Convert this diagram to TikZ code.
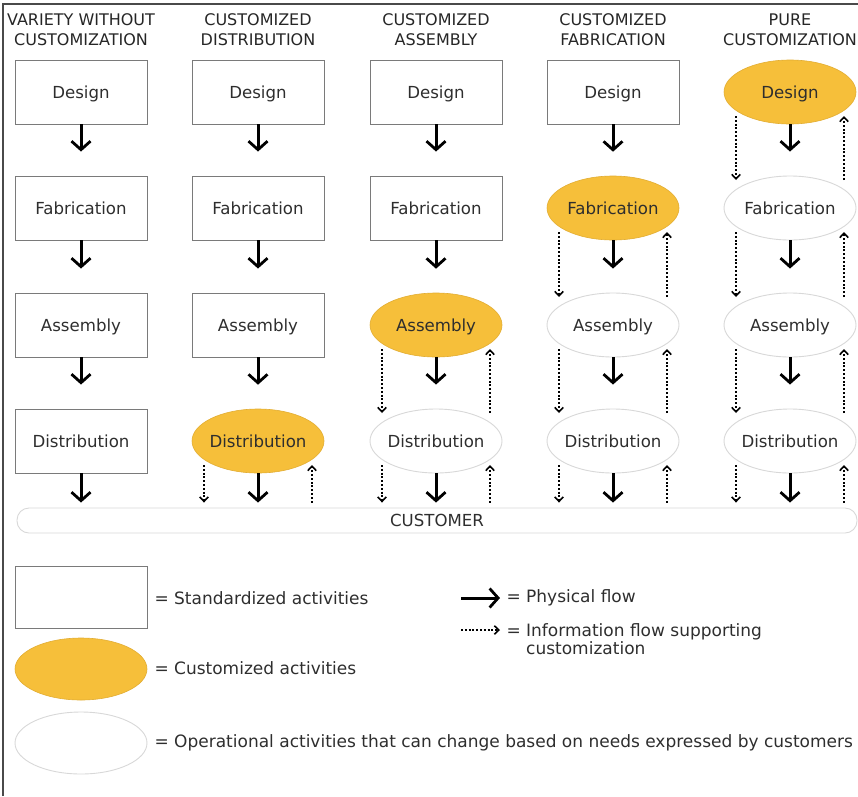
\documentclass[tikz,border=0pt]{standalone}
\usepackage{fontspec}
\setmainfont{DejaVu Sans}
\usetikzlibrary{shapes.geometric,arrows.meta,calc}
\definecolor{custyellow}{HTML}{F6BF3A}
\definecolor{custedge}{HTML}{E2AD33}
\definecolor{boxedge}{HTML}{7A7A7A}
\definecolor{opedge}{HTML}{D8D8D8}
\definecolor{ink}{HTML}{2E2E2E}
\definecolor{framec}{HTML}{4A4A4A}

\begin{document}
\begin{tikzpicture}[x=1pt,y=-1pt,
  every node/.style={font=\fontsize{16.6}{18}\selectfont, text=ink},
  activity/.style={minimum width=132pt, minimum height=64pt, inner sep=0pt,
    text height=12pt, text depth=0pt},
  stdbox/.style={activity, rectangle, draw=boxedge, line width=0.9pt, fill=white},
  oval/.style={activity, ellipse, inner xsep=-3pt},
  custact/.style={oval, draw=custedge, line width=0.6pt, fill=custyellow},
  opact/.style={oval, draw=opedge, line width=0.9pt, fill=white},
  heading/.style={align=center, font=\fontsize{16}{20}\selectfont, text=black!85},
  legendtext/.style={font=\fontsize{17}{18}\selectfont},
  phys/.style={draw=black, line width=3pt,
    -{Straight Barb[length=8.5pt,width=19pt,line width=2.8pt]}},
  info/.style={draw=black, line width=2.2pt, dash pattern=on 2pt off 1.8pt,
    -{Straight Barb[length=4.5pt,width=8.5pt,line width=1.6pt]}}
]
\useasboundingbox (0,0) rectangle (858,796);

% frame
\draw[framec, line width=2pt] (3,796) -- (3,4) -- (858,4);

% column headings
\node[heading] (h1) at (81,30)  {VARIETY WITHOUT\\CUSTOMIZATION};
\node[heading] (h2) at (258,30) {CUSTOMIZED\\DISTRIBUTION};
\node[heading] (h3) at (436,30) {CUSTOMIZED\\ASSEMBLY};
\node[heading] (h4) at (613,30) {CUSTOMIZED\\FABRICATION};
\node[heading] (h5) at (790,30) {PURE\\CUSTOMIZATION};

% column 1
\node[stdbox] (d1) at (81,92)  {Design};
\node[stdbox] (f1) at (81,208) {Fabrication};
\node[stdbox] (a1) at (81,325) {Assembly};
\node[stdbox] (x1) at (81,441) {Distribution};
% column 2
\node[stdbox]  (d2) at (258,92)  {Design};
\node[stdbox]  (f2) at (258,208) {Fabrication};
\node[stdbox]  (a2) at (258,325) {Assembly};
\node[custact] (x2) at (258,441) {Distribution};
% column 3
\node[stdbox]  (d3) at (436,92)  {Design};
\node[stdbox]  (f3) at (436,208) {Fabrication};
\node[custact] (a3) at (436,325) {Assembly};
\node[opact]   (x3) at (436,441) {Distribution};
% column 4
\node[stdbox]  (d4) at (613,92)  {Design};
\node[custact] (f4) at (613,208) {Fabrication};
\node[opact]   (a4) at (613,325) {Assembly};
\node[opact]   (x4) at (613,441) {Distribution};
% column 5
\node[custact] (d5) at (790,92)  {Design};
\node[opact]   (f5) at (790,208) {Fabrication};
\node[opact]   (a5) at (790,325) {Assembly};
\node[opact]   (x5) at (790,441) {Distribution};

% customer bar
\node[draw=opedge, line width=0.9pt, rounded corners=12pt, minimum width=840pt,
  minimum height=25pt, inner sep=0pt, text height=12pt, text depth=0pt]
  (cust) at (437,520.5) {CUSTOMER};

% physical flow
\foreach \c in {1,...,5}{
  \draw[phys, shorten >=24pt] (d\c.south) -- (f\c.north);
  \draw[phys, shorten >=24pt] (f\c.south) -- (a\c.north);
  \draw[phys, shorten >=24pt] (a\c.south) -- (x\c.north);
  \draw[phys, shorten >=5pt] (x\c.south) -- (x\c.south |- cust.north);
}

% information flow between activities
\foreach \u/\l in {a3/x3, f4/a4, a4/x4, d5/f5, f5/a5, a5/x5}{
  \draw[info] ($(\u.center)+(-54,24)$) -- ($(\l.center)+(-54,-28)$);
  \draw[info] ($(\l.center)+(54,-28)$) -- ($(\u.center)+(54,24)$);
}
% information flow to and from the customer
\foreach \u in {x2,x3,x4,x5}{
  \draw[info] ($(\u.center)+(-54,24)$) -- ($(\u.center |- cust.north)+(-54,-5)$);
  \draw[info] ($(\u.center |- cust.north)+(54,-5)$) -- ($(\u.center)+(54,24)$);
}

% legend
\node[stdbox, minimum height=62pt] (lstd) at (81,597) {};
\node[legendtext, anchor=west] (tstd) at (151,598) {= Standardized activities};
\node[custact, minimum height=62pt] (lcus) at (81,669) {};
\node[legendtext, anchor=west] (tcus) at (151,668) {= Customized activities};
\node[opact, minimum height=62pt] (lop) at (81,743) {};
\node[legendtext, anchor=west] (top) at (151,743)
  {= Operational activities that can change based on needs expressed by customers};

\node[legendtext, anchor=west] (tphys) at (503,598) {= Physical flow};
\coordinate (pstart) at ($(tphys.west)+(-42,0)$);
\coordinate (pend) at ($(tphys.west)+(-3,0)$);
\draw[phys] (pstart) -- (pend);

\node[legendtext, anchor=base west] (tinfo) at (503,636)
  {= \begin{tabular}[t]{@{}l@{}}Information flow supporting\\customization\end{tabular}};
\coordinate (istart) at (461,630);
\coordinate (iend) at (500,630);
\draw[info] (istart) -- (iend);
\end{tikzpicture}
\end{document}
